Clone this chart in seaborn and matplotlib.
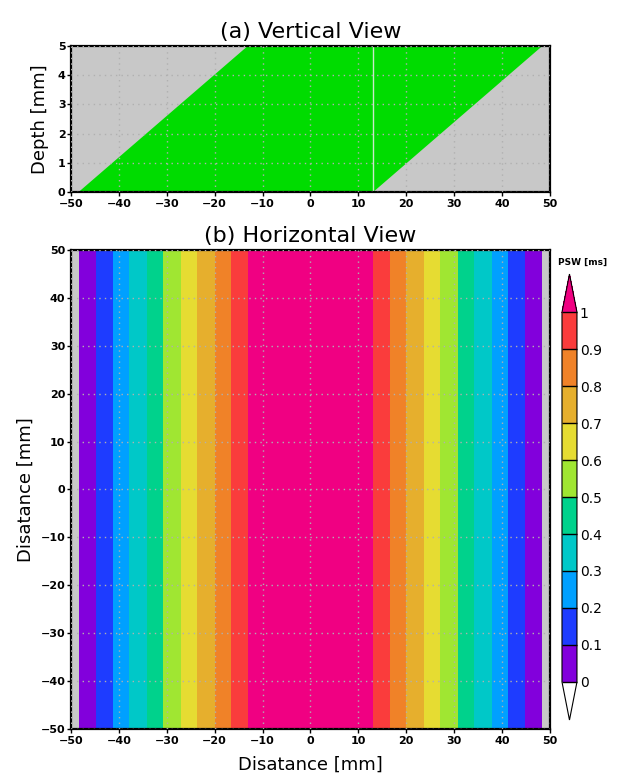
import numpy as np
import matplotlib
matplotlib.use("Agg")
import matplotlib.pyplot as plt
from matplotlib.colors import ListedColormap, BoundaryNorm
import seaborn as sns

# ---------------- data ----------------
# band edges along distance (mm) in the horizontal view
band_edges_mm = [-50.0, -48.4, -44.7, -41.2, -37.8, -34.1, -30.7, -27.1, -23.7, -20.0, -16.7, -13.1,
                 13.1, 16.7, 20.0, 23.7, 27.1, 30.7, 34.1, 37.8, 41.2, 44.7, 48.4, 50.0]
# PSW [ms] per band (nan = no signal, >1 = above scale)
band_psw_ms = [np.nan, 0.05, 0.15, 0.25, 0.35, 0.45, 0.55, 0.65, 0.75, 0.85, 0.95, 1.05,
               0.95, 0.85, 0.75, 0.65, 0.55, 0.45, 0.35, 0.25, 0.15, 0.05, np.nan]
y_extent_mm = [-50.0, 50.0]

# vertical view: insonified region (parallelogram) corners
region_x_mm = [-48.4, 13.1, 48.4, -13.1]
region_depth_mm = [0.0, 0.0, 5.0, 5.0]
seam_x_mm = 13.1

level_bounds = [0.0, 0.1, 0.2, 0.3, 0.4, 0.5, 0.6, 0.7, 0.8, 0.9, 1.0]
level_labels = ["0", "0.1", "0.2", "0.3", "0.4", "0.5", "0.6", "0.7", "0.8", "0.9", "1"]
xticks_mm = [-50, -40, -30, -20, -10, 0, 10, 20, 30, 40, 50]
depth_ticks = [0, 1, 2, 3, 4, 5]

# ---------------- style ----------------
sns.set_theme(style="white")
plt.rcParams["font.family"] = ["DejaVu Sans"]
plt.rcParams["text.color"] = "black"
plt.rcParams["axes.labelcolor"] = "black"
plt.rcParams["xtick.color"] = "black"
plt.rcParams["ytick.color"] = "black"

level_colors = ["#8200DC", "#1E3CFF", "#00A0FF", "#00C8C8", "#00D28C",
                "#A0E632", "#E6DC32", "#E6AF2D", "#F08228", "#FA3C3C"]
cmap = ListedColormap(level_colors)
cmap.set_over("#F00082")
cmap.set_under("white")
cmap.set_bad("#C8C8C8")
norm = BoundaryNorm(level_bounds, cmap.N)

grey_bg = "#C8C8C8"

def fmt(v):
    return str(v).replace("-", "\u2212")

fig = plt.figure(figsize=(6.19, 7.81), dpi=100)

def style_axes(ax):
    for s in ax.spines.values():
        s.set_color("black")
        s.set_linewidth(1.6)
    ax.tick_params(axis="both", direction="out", length=3, width=1, color="black",
                   bottom=True, left=True, pad=1)
    ax.tick_params(axis="x", pad=2)
    for lab in ax.get_xticklabels() + ax.get_yticklabels():
        lab.set_fontweight("bold")
        lab.set_fontsize(8)
    ax.grid(True, linestyle=(0, (1, 3)), color="#B0B0B0", linewidth=1.0)
    ax.set_axisbelow(False)

# ---- (a) vertical view ----
ax1 = fig.add_axes([0.1147, 0.7542, 0.7738, 0.1869])
ax1.set_facecolor(grey_bg)
ax1.fill(region_x_mm, region_depth_mm, color="#00DC00", linewidth=0, zorder=1)
ax1.plot([seam_x_mm, seam_x_mm], [region_depth_mm[0], region_depth_mm[2]],
         color="#C8E8C8", linewidth=1.0, zorder=2)
ax1.set_xlim(-50, 50)
ax1.set_ylim(0, 5)
ax1.set_xticks(xticks_mm)
ax1.set_yticks(depth_ticks)
ax1.set_xticklabels([fmt(v) for v in xticks_mm])
ax1.set_yticklabels([fmt(v) for v in depth_ticks])
style_axes(ax1)
ax1.set_ylabel("Depth [mm]", fontsize=13, labelpad=6)
ax1.set_title("(a) Vertical View", fontsize=16, pad=6)

# ---- (b) horizontal view ----
ax2 = fig.add_axes([0.1147, 0.0666, 0.7738, 0.6133])
ax2.set_facecolor(grey_bg)
Z = np.ma.masked_invalid(np.array([band_psw_ms]))
mesh = ax2.pcolormesh(band_edges_mm, y_extent_mm, Z, cmap=cmap, norm=norm, shading="flat")
ax2.set_xlim(-50, 50)
ax2.set_ylim(-50, 50)
ax2.set_xticks(xticks_mm)
ax2.set_yticks(xticks_mm)
ax2.set_xticklabels([fmt(v) for v in xticks_mm])
ax2.set_yticklabels([fmt(v) for v in xticks_mm])
style_axes(ax2)
ax2.set_xlabel("Disatance [mm]", fontsize=13, labelpad=7)
ax2.set_ylabel("Disatance [mm]", fontsize=13, labelpad=4.5)
ax2.set_title("(b) Horizontal View", fontsize=16, pad=6)

# ---- colorbar ----
cax = fig.add_axes([0.9079, 0.0781, 0.0242, 0.571])
cb = fig.colorbar(mesh, cax=cax, extend="both", extendfrac=0.103, drawedges=True,
                  ticks=level_bounds)
cb.outline.set_linewidth(0.8)
cb.outline.set_color("black")
cb.dividers.set_color("black")
cb.dividers.set_linewidth(1.0)
cb.ax.set_yticklabels(level_labels)
cb.ax.tick_params(length=0, pad=2)
for lab in cb.ax.get_yticklabels():
    lab.set_fontsize(10)
fig.text(558 / 619, 1 - 262 / 781, "PSW [ms]", ha="left", va="center",
         fontsize=6.5, fontweight="bold")

fig.savefig("out.png", dpi=100)
